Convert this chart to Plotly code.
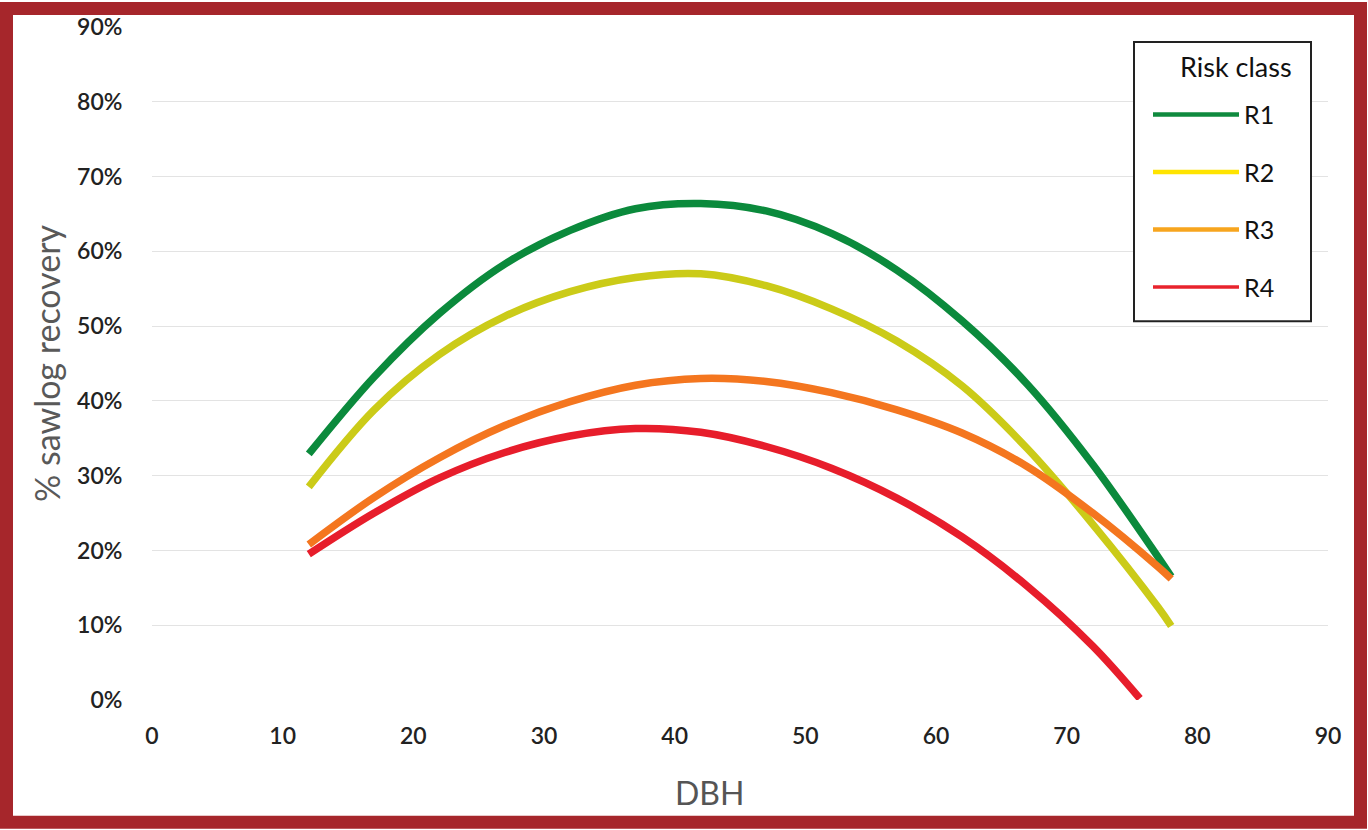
import plotly.graph_objects as go

# ---- data ----
dbh = [12, 17, 22, 27, 32, 37, 42, 47, 52, 57, 62, 67, 72, 77, 78]
r1 = [32.9, 43.2, 51.7, 58.3, 62.8, 65.7, 66.4, 65.4, 62.4, 57.5, 50.7, 42.2, 31.5, 19.1, 16.5]
r2 = [28.5, 38.8, 46.2, 51.3, 54.6, 56.5, 57.0, 55.4, 52.3, 48.0, 42.0, 33.6, 23.5, 12.4, 9.9]
r3 = [20.8, 27.1, 32.4, 36.7, 39.9, 42.1, 43.0, 42.6, 41.1, 38.8, 35.7, 31.2, 25.0, 17.8, 16.2]
dbh_r4 = [12, 17, 22, 27, 32, 37, 42, 47, 52, 57, 62, 67, 72, 75.6]
r4 = [19.5, 25.0, 29.7, 33.1, 35.3, 36.3, 35.8, 33.9, 31.0, 27.0, 21.8, 15.2, 7.2, 0.2]

names = ["R1", "R2", "R3", "R4"]
line_colors = ["#0b8a3c", "#cbcb18", "#f4761f", "#e71d2b"]
legend_colors = ["#0f8a3e", "#ffe400", "#f7a51e", "#e8232d"]
legend_widths = [4.5, 4.5, 4.5, 3.5]

series_x = [dbh, dbh, dbh, dbh_r4]
series_y = [r1, r2, r3, r4]

fig = go.Figure()
for xs, ys, c, n in zip(series_x, series_y, line_colors, names):
    fig.add_trace(go.Scatter(
        x=xs, y=[v / 100 for v in ys], mode="lines", name=n,
        line=dict(color=c, width=7.5, shape="spline", smoothing=1.0),
        showlegend=False, legendgroup=n,
    ))
for n, c, w in zip(names, legend_colors, legend_widths):
    fig.add_trace(go.Scatter(
        x=[None], y=[None], mode="lines", name=n,
        line=dict(color=c, width=w), legendgroup=n,
    ))

W, H = 1368, 830
L, R, T, B = 152, 40, 25, 130
pw, ph = W - L - R, H - T - B


def px2x(p):
    return (p - L) / pw


def py2y(p):
    return (H - B - p) / ph


# page border (dark red frame)
fig.add_shape(type="rect", xref="paper", yref="paper",
              x0=px2x(6.5), x1=px2x(1360.5), y0=py2y(822.5), y1=py2y(6.5),
              line=dict(color="#a6262b", width=13), fillcolor="rgba(0,0,0,0)",
              layer="above")
# legend frame
fig.add_shape(type="rect", xref="paper", yref="paper",
              x0=px2x(1134), x1=px2x(1311), y0=py2y(320), y1=py2y(40),
              line=dict(color="#222", width=2), fillcolor="white", layer="above")

fig.add_annotation(text="Risk class", xref="paper", yref="paper",
                   x=px2x(1294), y=py2y(65), xanchor="right", yanchor="middle",
                   showarrow=False, font=dict(size=27, color="#111"))
fig.add_annotation(text="DBH", xref="paper", yref="paper",
                   x=px2x(709), y=py2y(793), xanchor="center", yanchor="middle",
                   showarrow=False, font=dict(size=32, color="#555"))

font_family = "Lato, 'Open Sans', sans-serif"
fig.update_layout(
    width=W, height=H,
    margin=dict(l=L, r=R, t=T, b=B),
    paper_bgcolor="white", plot_bgcolor="white",
    font=dict(family=font_family, color="#222"),
    xaxis=dict(
        range=[0, 90], dtick=10, tick0=0, showgrid=False, zeroline=False,
        showline=False, ticks="outside", ticklen=15, tickcolor="rgba(0,0,0,0)",
        tickfont=dict(size=23, color="#222", weight=600),
        fixedrange=True,
    ),
    yaxis=dict(
        range=[0, 0.9], dtick=0.1, tick0=0, tickformat=".0%",
        showgrid=True, gridcolor="#e3e3e3", gridwidth=1, zeroline=False,
        showline=False, ticks="outside", ticklen=24, tickcolor="rgba(0,0,0,0)",
        tickfont=dict(size=23, color="#222", weight=600),
        title=dict(text="% sawlog recovery", font=dict(size=34, color="#595959"), standoff=6),
        fixedrange=True,
    ),
    legend=dict(
        x=px2x(1148), y=py2y(90), xanchor="left", yanchor="top",
        bgcolor="rgba(0,0,0,0)", borderwidth=0,
        font=dict(size=25, color="#111"),
        traceorder="grouped", tracegroupgap=22, itemwidth=86,
    ),
)

fig.write_html(
    "out.html",
    config={"displayModeBar": False},
    post_script="document.body.style.margin='0px';document.body.style.overflow='hidden';",
)
